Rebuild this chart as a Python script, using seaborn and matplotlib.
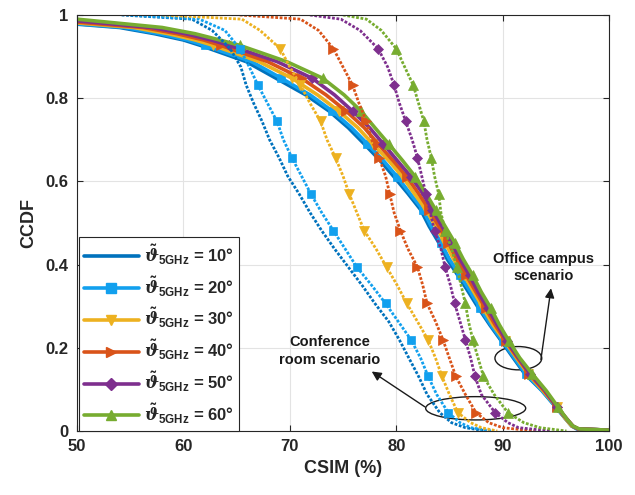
import numpy as np
import pandas as pd
import matplotlib
matplotlib.use('Agg')
import matplotlib.pyplot as plt
import seaborn as sns
from matplotlib.patches import Ellipse
from matplotlib.lines import Line2D

# ---------------- data ----------------
angles = ["10", "20", "30", "40", "50", "60"]
colors = ["#0072BD", "#12A0EE", "#EDB120", "#D95319", "#7E2F8E", "#77AC30"]
markers = [None, "s", "v", ">", "D", "^"]
msizes = [6, 6, 6.5, 6.5, 5.2, 6.5]

# Conference room scenario: CSIM (%) at given CCDF levels
conf_levels = [1.0, 0.99, 0.963, 0.919, 0.875, 0.8315, 0.788, 0.744, 0.700, 0.6565,
               0.613, 0.569, 0.525, 0.4815, 0.438, 0.394, 0.350, 0.3065, 0.263, 0.219,
               0.175, 0.1315, 0.088, 0.044, 0.02, 0.008, 0.0]
conf_10 = [54.2, 60.8, 62.7, 64.4, 65.4, 65.9, 66.6, 67.4, 68.1, 69.0, 69.8, 70.9, 71.9,
           73.0, 74.2, 75.5, 76.8, 78.0, 79.3, 80.3, 81.2, 82.1, 82.9, 84.1, 85.2, 86.5, 88.5]
conf_20 = [55.0, 61.5, 63.9, 65.3, 66.2, 67.0, 67.9, 68.8, 69.4, 70.2, 71.1, 72.0, 73.0,
           74.1, 75.2, 76.3, 77.7, 79.0, 80.2, 81.4, 82.3, 83.0, 83.8, 84.9, 86.0, 87.0, 89.0]
conf_30 = [58.0, 65.5, 67.2, 69.1, 70.0, 71.0, 71.9, 72.9, 73.5, 74.3, 75.0, 75.6, 76.3,
           77.0, 78.1, 79.1, 80.1, 81.0, 82.0, 83.0, 83.7, 84.3, 85.0, 85.8, 87.0, 88.0, 89.5]
conf_40 = [65.3, 71.0, 72.7, 74.1, 75.0, 75.9, 76.5, 77.2, 77.7, 78.4, 79.0, 79.4, 79.8,
           80.4, 81.1, 82.0, 82.5, 82.9, 83.7, 84.4, 85.0, 85.6, 86.5, 87.5, 88.7, 90.0, 93.0]
conf_50 = [71.9, 74.8, 76.6, 78.3, 79.2, 79.8, 80.3, 80.9, 81.5, 82.0, 82.4, 82.8, 83.2,
           83.6, 84.2, 84.6, 85.1, 85.5, 86.0, 86.5, 87.0, 87.4, 88.0, 89.3, 90.5, 91.5, 94.5]
conf_60 = [75.0, 77.2, 78.6, 80.0, 80.8, 81.6, 82.1, 82.6, 82.9, 83.3, 83.6, 84.0, 84.2,
           84.6, 85.2, 85.7, 86.1, 86.5, 86.8, 87.2, 87.7, 88.2, 89.2, 90.5, 92.0, 93.5, 96.0]

# Office campus scenario: CCDF at CSIM=50 and CSIM (%) at given CCDF levels
office_start = [0.978, 0.979, 0.981, 0.983, 0.986, 0.990]
office_levels = [0.97, 0.955, 0.94, 0.927, 0.888, 0.848, 0.808, 0.769, 0.729, 0.690,
                 0.650, 0.611, 0.571, 0.532, 0.492, 0.453, 0.413, 0.374, 0.334, 0.295,
                 0.255, 0.216, 0.176, 0.137, 0.097, 0.058, 0.030, 0.012, 0.005, 0.002]
off_10 = [54.0, 57.3, 60.0, 61.6, 65.9, 68.7, 71.5, 73.7, 75.5, 77.0, 78.5, 79.8, 81.1, 82.3,
          83.1, 84.0, 84.8, 85.8, 86.8, 87.75, 88.8, 89.9, 91.0, 92.1, 93.7, 95.0, 95.9, 96.5, 97.0, 100]
off_20 = [54.5, 57.8, 60.4, 62.0, 66.4, 69.2, 71.9, 74.0, 75.8, 77.3, 78.8, 80.1, 81.3, 82.5,
          83.3, 84.2, 85.0, 86.0, 87.0, 87.9, 88.9, 90.0, 91.1, 92.2, 93.7, 95.0, 95.9, 96.5, 97.0, 100]
off_30 = [55.3, 58.6, 61.1, 62.8, 67.1, 70.2, 72.6, 74.6, 76.4, 77.8, 79.3, 80.6, 81.7, 82.8,
          83.7, 84.6, 85.4, 86.4, 87.3, 88.2, 89.1, 90.2, 91.3, 92.4, 93.8, 95.1, 95.9, 96.5, 97.1, 100]
off_40 = [56.2, 59.4, 61.9, 63.5, 67.9, 71.1, 73.4, 75.3, 77.0, 78.3, 79.7, 81.0, 82.1, 83.1,
          84.0, 84.9, 85.7, 86.6, 87.5, 88.4, 89.3, 90.3, 91.4, 92.5, 93.9, 95.1, 96.0, 96.6, 97.1, 100]
off_50 = [57.0, 60.2, 62.6, 64.3, 68.8, 72.1, 74.2, 75.9, 77.5, 78.8, 80.1, 81.4, 82.5, 83.4,
          84.3, 85.2, 86.0, 86.9, 87.7, 88.6, 89.5, 90.4, 91.5, 92.6, 94.0, 95.1, 96.0, 96.6, 97.1, 100]
off_60 = [58.0, 61.1, 63.4, 65.3, 69.7, 73.1, 75.1, 76.7, 78.0, 79.3, 80.6, 81.8, 82.8, 83.7,
          84.6, 85.5, 86.3, 87.2, 88.0, 88.9, 89.7, 90.6, 91.6, 92.8, 94.1, 95.2, 96.0, 96.6, 97.2, 100]

conf_series = [conf_10, conf_20, conf_30, conf_40, conf_50, conf_60]
off_series = [off_10, off_20, off_30, off_40, off_50, off_60]

x_ticks = [50, 60, 70, 80, 90, 100]
y_ticks = [0, 0.2, 0.4, 0.6, 0.8, 1]
y_tick_labels = ["0", "0.2", "0.4", "0.6", "0.8", "1"]

# ---------------- style ----------------
sns.set_theme(style="ticks")
plt.rcParams['font.family'] = ['Liberation Sans', 'DejaVu Sans']
plt.rcParams['font.weight'] = 'bold'
plt.rcParams['mathtext.fontset'] = 'custom'
plt.rcParams['mathtext.rm'] = 'Liberation Sans:bold'
plt.rcParams['mathtext.it'] = 'DejaVu Serif:italic:bold'
plt.rcParams['mathtext.bf'] = 'Liberation Sans:bold'

fig = plt.figure(figsize=(6.35, 4.95), dpi=100)
ax = fig.add_axes([77/635, 1-431/495, (609-77)/635, (431-15)/495])

off_mark = list(range(4, 27, 2))
conf_mark = list(range(3, 24, 2))

handles = []
for i in range(6):
    xs = [50.0] + off_series[i]
    ys = [office_start[i]] + office_levels
    df = pd.DataFrame({"CSIM": xs, "CCDF": ys})
    sns.lineplot(data=df, x="CSIM", y="CCDF", ax=ax, sort=False, estimator=None,
                 color=colors[i], lw=2.6, marker=markers[i], markevery=off_mark,
                 markersize=msizes[i], markeredgecolor=colors[i], markeredgewidth=0.5,
                 legend=False)
    handles.append(Line2D([], [], color=colors[i], lw=2.6, marker=markers[i],
                          markersize=msizes[i] * 1.2, markeredgecolor=colors[i]))

for i in range(6):
    df = pd.DataFrame({"CSIM": conf_series[i], "CCDF": conf_levels})
    sns.lineplot(data=df, x="CSIM", y="CCDF", ax=ax, sort=False, estimator=None,
                 color=colors[i], lw=2.0, linestyle=(0, (1, 0.6)), marker=markers[i],
                 markevery=conf_mark, markersize=msizes[i], markeredgecolor=colors[i],
                 markeredgewidth=0.5, legend=False)

ax.set_xlim(50, 100)
ax.set_ylim(0, 1)
ax.set_xticks(x_ticks)
ax.set_xticklabels([str(v) for v in x_ticks])
ax.set_yticks(y_ticks)
ax.set_yticklabels(y_tick_labels)
ax.tick_params(direction='in', top=True, right=True, length=4, width=0.8,
               labelsize=12, colors='#262626', pad=6)
for lab in ax.get_xticklabels() + ax.get_yticklabels():
    lab.set_fontweight('bold')
ax.grid(True, color='#e3e3e3', lw=0.8)
ax.set_axisbelow(True)
for s in ax.spines.values():
    s.set_color('#262626')
    s.set_linewidth(0.8)
ax.set_xlabel("CSIM (%)", fontsize=13, fontweight='bold', color='#262626', labelpad=4)
ax.set_ylabel("CCDF", fontsize=13, fontweight='bold', color='#262626', labelpad=6)

labels = [r"$\tilde{\vartheta}_{\mathbf{5GHz}}$ = " + a + "°" for a in angles]
leg = ax.legend(handles, labels, loc='lower left', bbox_to_anchor=(0.003, 0.0),
                borderaxespad=0, fontsize=12, handlelength=3.3, labelspacing=0.45,
                handletextpad=0.35, borderpad=0.3, fancybox=False, framealpha=1,
                edgecolor='#262626')
leg.get_frame().set_linewidth(0.8)
for t in leg.get_texts():
    t.set_fontweight('bold')

# annotations
ax.add_patch(Ellipse((91.48, 0.175), 4.4, 0.056, fill=False, ec='k', lw=1))
ax.add_patch(Ellipse((87.47, 0.0546), 9.4, 0.056, fill=False, ec='k', lw=1))
ax.annotate('', xy=(94.55, 0.343), xytext=(93.6, 0.172),
            arrowprops=dict(arrowstyle='-|>', color='k', lw=1, mutation_scale=14,
                            shrinkA=0, shrinkB=0))
ax.annotate('', xy=(77.7, 0.143), xytext=(82.7, 0.058),
            arrowprops=dict(arrowstyle='-|>', color='k', lw=1, mutation_scale=14,
                            shrinkA=0, shrinkB=0))
ax.text(93.83, 0.3926, "Office campus\nscenario", ha='center', va='center',
        fontsize=10.5, fontweight='bold', color='k', linespacing=1.3)
ax.text(73.78, 0.1925, "Conference\nroom scenario", ha='center', va='center',
        fontsize=10.5, fontweight='bold', color='k', linespacing=1.3)

fig.savefig("out.png", dpi=100)
